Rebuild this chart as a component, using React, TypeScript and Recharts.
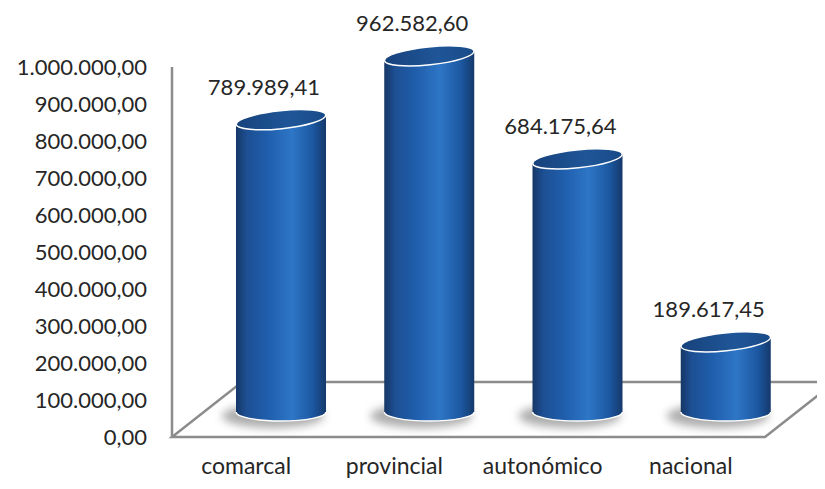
import React from 'react';
import { BarChart, Bar, XAxis, YAxis, CartesianGrid, LabelList } from 'recharts';

const categories = ['comarcal', 'provincial', 'autonómico', 'nacional'];
const amounts = [789989.41, 962582.6, 684175.64, 189617.45];
const yTicks = [0, 100000, 200000, 300000, 400000, 500000, 600000, 700000, 800000, 900000, 1000000];

const data = categories.map((name, i) => ({ name, value: amounts[i] }));

// depth offset of the cylinders (middle of the floor) and of the full floor
const DX = 35;
const DY = -25;
const FLOOR_DX = 70;
const FLOOR_DY = -55;
const FONT = 'Lato, "Open Sans", sans-serif';

const fmt = (v: number, dec = 2) => {
  const [int, frac] = v.toFixed(dec).split('.');
  const grouped = int.replace(/\B(?=(\d{3})+(?!\d))/g, '.');
  return frac ? `${grouped},${frac}` : grouped;
};

const Cylinder = (props: any) => {
  const { x, y, width, height } = props;
  const rx = width / 2;
  const cx = x + rx + DX;
  const top = y + DY;
  const bot = y + height + DY;
  const ry = 9;
  const tilt = 5;
  const left = cx - rx;
  const right = cx + rx;
  return (
    <g>
      <ellipse cx={cx - 8} cy={bot + 4} rx={rx + 6} ry={ry + 3} fill="#8a8a8a" opacity={0.7} filter="url(#cylShadow)" />
      <path
        d={`M${left},${top + tilt} L${left},${bot} A${rx},${ry} 0 0 0 ${right},${bot} L${right},${top - tilt} Z`}
        fill="url(#cylBody)"
      />
      <path d={`M${left},${bot} A${rx},${ry} 0 0 0 ${right},${bot}`} fill="none" stroke="#ffffff" strokeWidth={1.5} />
      <ellipse
        cx={cx}
        cy={top}
        rx={rx}
        ry={ry}
        transform={`rotate(-6 ${cx} ${top})`}
        fill="url(#cylTop)"
        stroke="#ffffff"
        strokeWidth={1.5}
      />
    </g>
  );
};

const ValueLabel = (props: any) => {
  const { x, y, width, value } = props;
  return (
    <text
      x={x + width / 2 + DX - 17}
      y={y + DY - 30}
      textAnchor="middle"
      dominantBaseline="middle"
      fontFamily={FONT}
      fontSize={22}
      fill="#262626"
    >
      {fmt(value)}
    </text>
  );
};

// the 3D floor, drawn as the only grid line (at value 0) so it sits behind the cylinders
const Floor = (props: any) => {
  const { x1, y1, x2 } = props;
  const pts = [
    [x1, y1],
    [x2, y1],
    [x2 + FLOOR_DX, y1 + FLOOR_DY],
    [x1 + FLOOR_DX, y1 + FLOOR_DY],
  ];
  return (
    <polygon
      key="floor"
      points={pts.map((p) => p.join(',')).join(' ')}
      fill="none"
      stroke="#8c8c8c"
      strokeWidth={2.5}
    />
  );
};

export default function App() {
  return (
    <div style={{ width: 817, height: 481, background: '#fff' }}>
      <BarChart
        width={817}
        height={481}
        data={data}
        margin={{ top: 59, right: 60, bottom: 0, left: 0 }}
        style={{ overflow: 'visible' }}
      >
        <defs>
          <linearGradient id="cylBody" x1="0" y1="0" x2="1" y2="0">
            <stop offset="0%" stopColor="#163766" />
            <stop offset="12%" stopColor="#1d4f93" />
            <stop offset="35%" stopColor="#1f5eac" />
            <stop offset="62%" stopColor="#2e76c6" />
            <stop offset="85%" stopColor="#1c58a2" />
            <stop offset="100%" stopColor="#15396b" />
          </linearGradient>
          <linearGradient id="cylTop" x1="0" y1="0" x2="1" y2="0">
            <stop offset="0%" stopColor="#17427c" />
            <stop offset="60%" stopColor="#1f5698" />
            <stop offset="100%" stopColor="#184a88" />
          </linearGradient>
          <filter id="cylShadow" x="-30%" y="-100%" width="160%" height="300%">
            <feGaussianBlur stdDeviation="4" />
          </filter>
        </defs>
        <CartesianGrid vertical={false} horizontalValues={[0]} horizontal={Floor} />
        <XAxis
          dataKey="name"
          axisLine={false}
          tickLine={false}
          tickSize={0}
          tickMargin={21}
          height={52}
          tick={{ fontFamily: FONT, fontSize: 23, fill: '#262626' }}
          interval={0}
        />
        <YAxis
          width={164}
          domain={[0, 1000000]}
          ticks={yTicks}
          tickFormatter={(v: number) => fmt(v)}
          axisLine={{ stroke: '#8c8c8c', strokeWidth: 2.5 }}
          tickLine={false}
          tickSize={0}
          tickMargin={25}
          tick={{ fontFamily: FONT, fontSize: 22, fill: '#262626' }}
          interval={0}
        />
        <Bar dataKey="value" barSize={90} shape={Cylinder} isAnimationActive={false}>
          <LabelList dataKey="value" content={ValueLabel} />
        </Bar>
      </BarChart>
    </div>
  );
}
